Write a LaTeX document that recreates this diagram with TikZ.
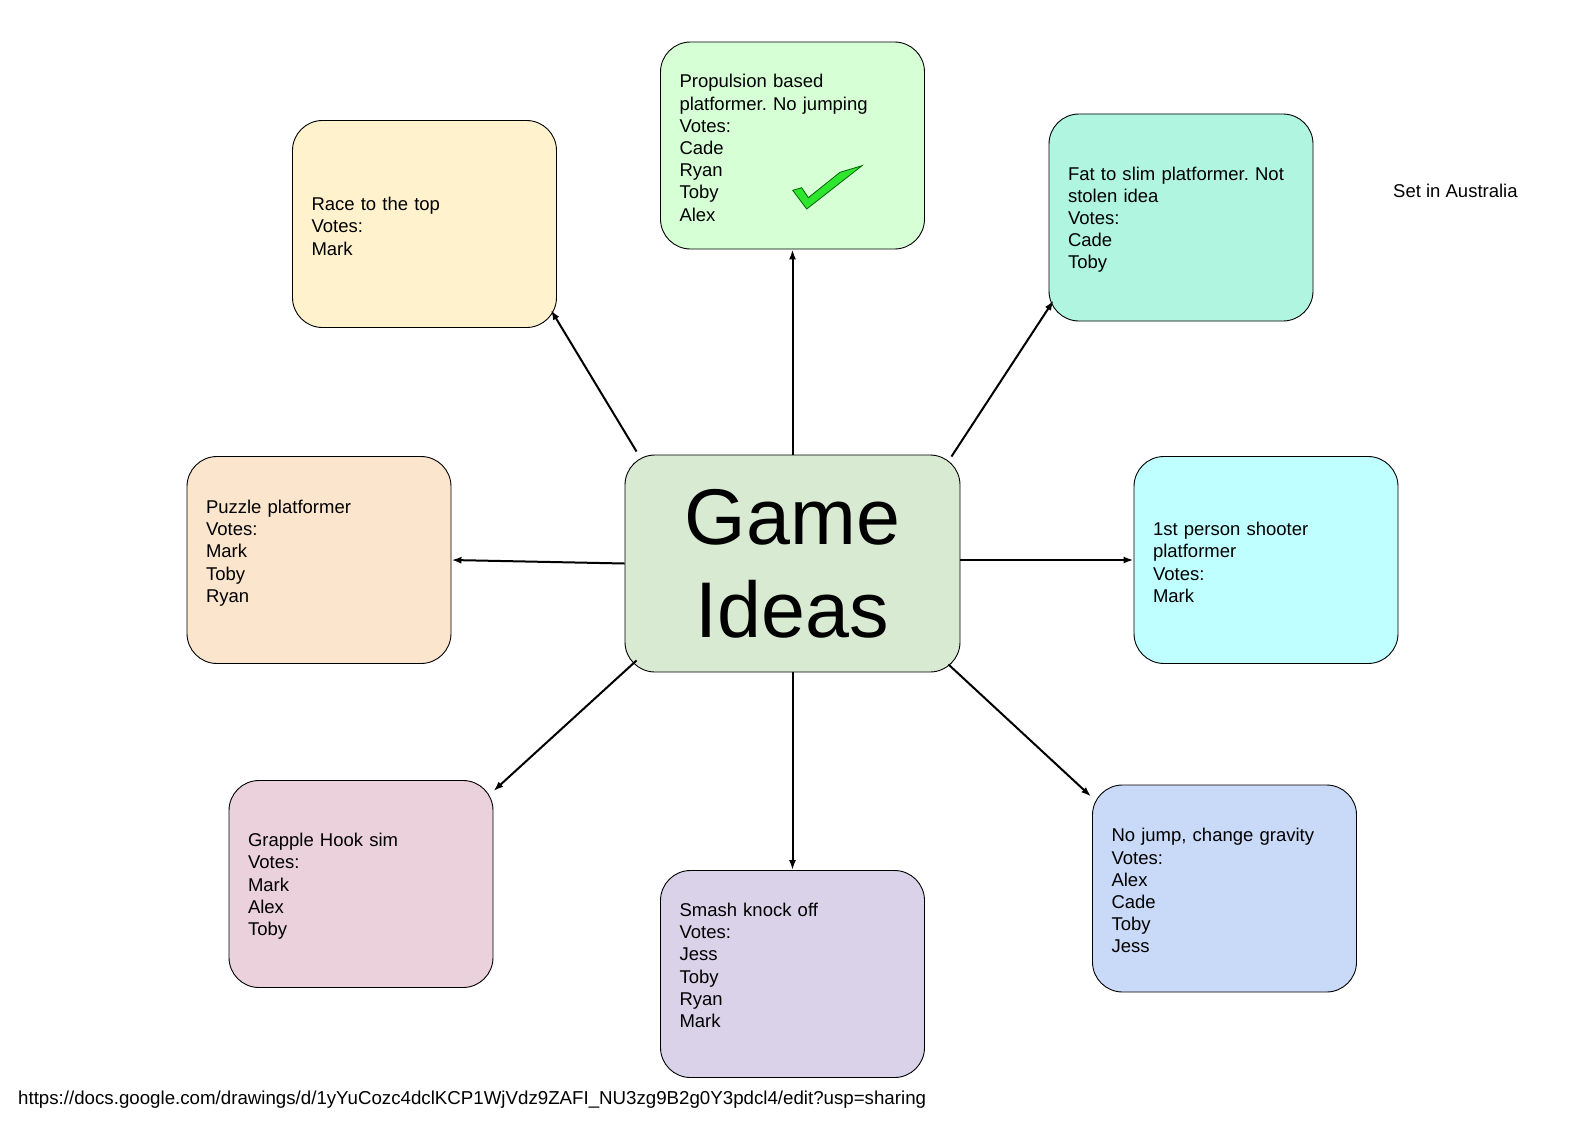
\documentclass[tikz,border=0pt]{standalone}
\usepackage{fontspec}
\setmainfont{Liberation Sans}
\usetikzlibrary{arrows.meta}
\frenchspacing

\definecolor{racecol}{HTML}{FFF2CC}
\definecolor{propcol}{HTML}{D6FFD6}
\definecolor{fatcol}{HTML}{AFF5E0}
\definecolor{puzzlecol}{HTML}{FCE5CD}
\definecolor{gamecol}{HTML}{D9EAD3}
\definecolor{shootercol}{HTML}{BFFFFF}
\definecolor{grapplecol}{HTML}{EAD1DC}
\definecolor{smashcol}{HTML}{D9D2E9}
\definecolor{nojumpcol}{HTML}{C9DAF8}
\definecolor{tickcol}{HTML}{2EE62E}

\begin{document}
\begin{tikzpicture}[x=1pt, y=-1pt, >={Latex[length=10pt,width=7pt]},
    idea/.style={draw, line width=0.9pt, rounded corners=30pt,
      minimum width=264pt, minimum height=207pt, inner xsep=19pt,
      text width=226pt, text height=18pt, align=left,
      font=\fontsize{18.5}{22.2}\selectfont},
    hub/.style={draw, line width=0.9pt, rounded corners=30pt, fill=gamecol,
      minimum width=335pt, minimum height=217pt, align=center,
      font=\fontsize{79}{93}\selectfont},
    link/.style={->, line width=2pt}]
  \fill[white] (0,0) rectangle (1586,1121);
  \useasboundingbox (0,0) rectangle (1586,1121);

  \node[hub] (game) at (792.5,563.5) {Game\\Ideas};
  \node[idea, fill=racecol] (race) at (424.5,224) {Race to the top\\Votes:\\Mark};
  \node[idea, fill=propcol] (propulsion) at (792.5,145.5) {Propulsion based\\platformer. No jumping\\Votes:\\Cade\\Ryan\\Toby\\Alex};
  \node[idea, fill=fatcol] (fatslim) at (1181,217.5) {Fat to slim platformer. Not\\stolen idea\\Votes:\\Cade\\Toby};
  \node[idea, fill=puzzlecol] (puzzle) at (319,560) {Puzzle platformer\\Votes:\\Mark\\Toby\\Ryan\\\mbox{}};
  \node[idea, fill=shootercol] (shooter) at (1266,560) {1st person shooter\\platformer\\Votes:\\Mark};
  \node[idea, fill=grapplecol] (grapple) at (361,884) {Grapple Hook sim\\Votes:\\Mark\\Alex\\Toby};
  \node[idea, fill=smashcol] (smash) at (792.5,974) {Smash knock off\\Votes:\\Jess\\Toby\\Ryan\\Mark\\\mbox{}};
  \node[idea, fill=nojumpcol] (nojump) at (1224.5,888.5) {No jump, change gravity\\Votes:\\Alex\\Cade\\Toby\\Jess};

  \node[anchor=west, inner sep=0, font=\fontsize{18.5}{22.2}\selectfont] (setting) at (1393,191) {Set in Australia};
  \node[anchor=west, inner sep=0, font=\fontsize{18.7}{22.2}\selectfont] (url) at (18,1099.5)
    {https://docs.google.com/drawings/d/1yYuCozc4dclKCP1WjVdz9ZAFI\_NU3zg9B2g0Y3pdcl4/edit?usp=sharing};

  % tick
  \filldraw[fill=tickcol, draw=black!60!green, line width=0.8pt]
    (792.7,190.3) -- (801.7,187.7) -- (808.3,197.7) -- (840,172.3)
    -- (862,165.7) -- (806.7,209) -- cycle;

  \path[link]
    ([shift={(12,-3)}]game.north west) edge ([shift={(-6,-18)}]race.south east)
    (game.north) edge (propulsion.south)
    ([shift={(-9,2)}]game.north east) edge ([shift={(5,-21)}]fatslim.south west)
    (game.west) edge (puzzle.east)
    (game.east |- shooter.west) edge (shooter.west)
    ([shift={(12,-12)}]game.south west) edge ([shift={(0,11)}]grapple.north east)
    (game.south) edge (smash.north)
    ([shift={(-12,-8)}]game.south east) edge ([shift={(-1,12)}]nojump.north west);
\end{tikzpicture}
\end{document}
